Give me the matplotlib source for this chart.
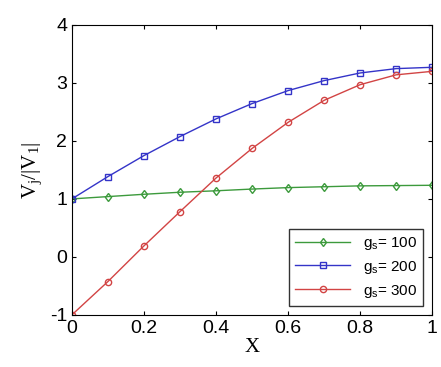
import matplotlib.pyplot as plt
import numpy as np

x = [0, 0.1, 0.2, 0.3, 0.4, 0.5, 0.6, 0.7, 0.8, 0.9, 1.0]
g100 = [1.0, 1.04, 1.08, 1.115, 1.14, 1.17, 1.195, 1.21, 1.225, 1.23, 1.235]
g200 = [1.0, 1.385, 1.747, 2.075, 2.38, 2.644, 2.868, 3.04, 3.172, 3.247, 3.27]
g300 = [-1.0, -0.425, 0.19, 0.78, 1.36, 1.87, 2.32, 2.70, 2.97, 3.14, 3.20]
labels = ['$\\mathregular{g_s}$= 100', '$\\mathregular{g_s}$= 200', '$\\mathregular{g_s}$= 300']

plt.rcParams['font.family'] = ['Liberation Sans', 'DejaVu Sans']
plt.rcParams['axes.unicode_minus'] = False

fig = plt.figure(figsize=(4.41, 3.67), dpi=100)
ax = fig.add_axes([0.163, 0.142, 0.817, 0.790])

ax.plot(x, g100, '-d', color='#3c9a3c', mfc='none', ms=4.5, lw=1, label=labels[0])
ax.plot(x, g200, '-s', color='#3434c8', mfc='none', ms=4, lw=1, label=labels[1])
ax.plot(x, g300, '-o', color='#d24444', mfc='none', ms=4.5, lw=1, label=labels[2])

ax.set_xlim(0, 1)
ax.set_ylim(-1, 4)
ax.set_xticks([0, 0.2, 0.4, 0.6, 0.8, 1])
ax.set_xticklabels(['0', '0.2', '0.4', '0.6', '0.8', '1'])
ax.set_yticks([-1, 0, 1, 2, 3, 4])
ax.tick_params(direction='in', top=True, right=True, labelsize=14, length=3)
ax.set_xlabel('X', family='Liberation Serif', fontsize=15, labelpad=1)
ax.set_ylabel('$\\mathregular{V_j/|V_1|}$', family='Liberation Serif', fontsize=15, labelpad=4)

leg = ax.legend(loc='lower right', fontsize=11, fancybox=False, edgecolor='black',
                borderaxespad=0.6, handlelength=3.6, labelspacing=0.45)
leg.get_frame().set_linewidth(1)

plt.savefig('out.png', dpi=100)
